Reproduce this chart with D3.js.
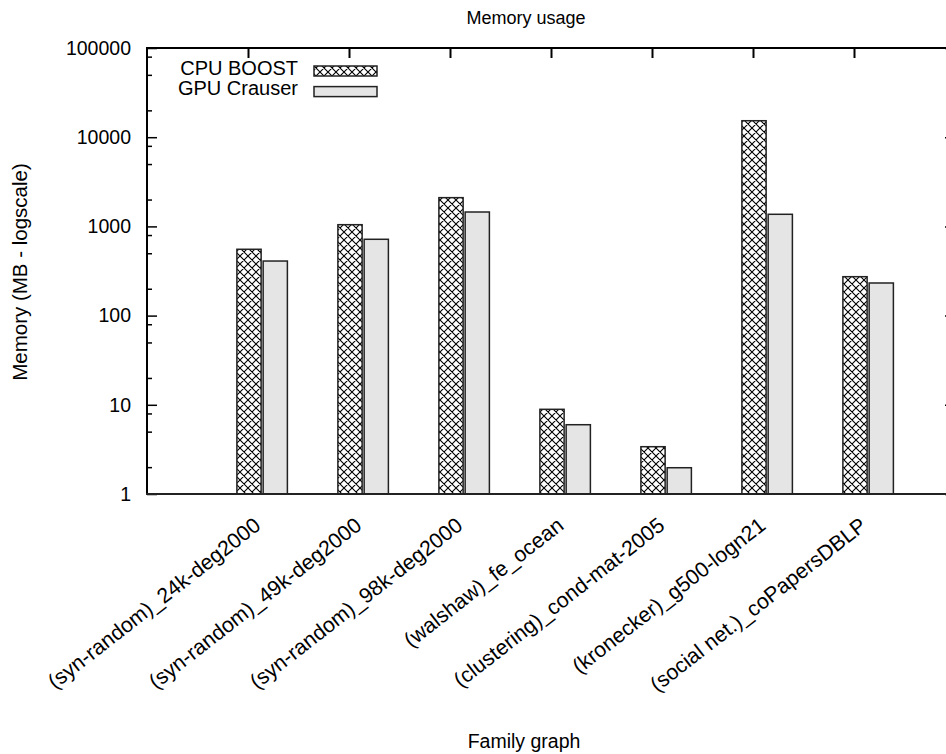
<!DOCTYPE html>
<html>
<head>
<meta charset="utf-8">
<script src="https://cdn.jsdelivr.net/npm/d3@7"></script>
<style>
  html, body { margin: 0; padding: 0; background: #fff; }
  svg { display: block; font-family: "Liberation Sans", Arial, Helvetica, sans-serif; }
</style>
</head>
<body>
<svg id="chart" width="946" height="754"></svg>
<script>
const categories = [
  "(syn-random)_24k-deg2000",
  "(syn-random)_49k-deg2000",
  "(syn-random)_98k-deg2000",
  "(walshaw)_fe_ocean",
  "(clustering)_cond-mat-2005",
  "(kronecker)_g500-logn21",
  "(social net.)_coPapersDBLP"
];
const seriesNames = ["CPU BOOST", "GPU Crauser"];
const cpuBoost = [554, 1045, 2100, 8.9, 3.39, 15300, 273];
const gpuCrauser = [409, 717, 1450, 5.98, 1.97, 1367, 232];
const yTickValues = [1, 10, 100, 1000, 10000, 100000];
const yTickLabels = ["1", "10", "100", "1000", "10000", "100000"];
const minorMultipliers = [2, 5, 8];

(function () {
const svg = d3.select("#chart");
const pLeft = 147, pRight = 955, pTop = 48, pBottom = 494;

const x = d3.scaleLinear().domain([-1, 7]).range([pLeft, pRight]);
const y = d3.scaleLog().domain([1, 100000]).range([pBottom, pTop]);

const defs = svg.append("defs");
const pat = defs.append("pattern")
  .attr("id", "xhatch").attr("patternUnits", "userSpaceOnUse")
  .attr("width", 8).attr("height", 8);
pat.append("rect").attr("width", 8).attr("height", 8).attr("fill", "#fff");
pat.append("path").attr("d", "M0,0L8,8M8,0L0,8M-1,7L1,9M7,-1L9,1M-1,1L1,-1M7,9L9,7")
  .attr("stroke", "#000").attr("stroke-width", 1.1);

const barW = 0.24;
const offsets = [-0.11, 0.15];
const fills = ["url(#xhatch)", "#e5e5e5"];
const series = [cpuBoost, gpuCrauser];

series.forEach((vals, s) => {
  svg.append("g").selectAll("rect").data(vals).join("rect")
    .attr("x", (d, i) => x(i + offsets[s]))
    .attr("width", x(barW) - x(0))
    .attr("y", d => y(d))
    .attr("height", d => y(1) - y(d))
    .attr("fill", fills[s])
    .attr("stroke", "#222").attr("stroke-width", 1.5);
});

const minors = [];
for (let e = 0; e < 5; e++) minorMultipliers.forEach(m => minors.push(m * Math.pow(10, e)));

const axisG = svg.append("g");
const yAxisL = d3.axisLeft(y).tickValues(yTickValues).tickFormat((d, i) => yTickLabels[i]).tickSize(-10).tickPadding(16);
const gl = axisG.append("g").attr("transform", `translate(${pLeft},0)`).call(yAxisL);
gl.select(".domain").remove();
gl.selectAll(".tick line").attr("stroke", "#000").attr("stroke-width", 1.5);
gl.selectAll(".tick text").attr("font-size", 19.5).attr("fill", "#000");
axisG.append("g").attr("transform", `translate(${pLeft},0)`)
  .call(d3.axisLeft(y).tickValues(minors).tickFormat("").tickSize(-5))
  .call(g => g.select(".domain").remove())
  .call(g => g.selectAll(".tick line").attr("stroke", "#000").attr("stroke-width", 1.5));
axisG.append("g").attr("transform", `translate(${pRight},0)`)
  .call(d3.axisRight(y).tickValues(yTickValues).tickFormat("").tickSize(-10))
  .call(g => g.select(".domain").remove())
  .call(g => g.selectAll(".tick line").attr("stroke", "#000").attr("stroke-width", 1.5));
axisG.append("g").attr("transform", `translate(${pRight},0)`)
  .call(d3.axisRight(y).tickValues(minors).tickFormat("").tickSize(-5))
  .call(g => g.select(".domain").remove())
  .call(g => g.selectAll(".tick line").attr("stroke", "#000").attr("stroke-width", 1.5));
axisG.append("g").attr("transform", `translate(0,${pTop})`)
  .call(d3.axisTop(x).tickValues(d3.range(categories.length)).tickFormat("").tickSize(-10))
  .call(g => g.select(".domain").remove())
  .call(g => g.selectAll(".tick line").attr("stroke", "#000").attr("stroke-width", 2));

svg.append("line").attr("x1", pLeft).attr("x2", pLeft).attr("y1", pTop - 1).attr("y2", pBottom + 1).attr("stroke", "#000").attr("stroke-width", 2);
svg.append("line").attr("x1", pLeft - 1).attr("x2", pRight).attr("y1", pTop).attr("y2", pTop).attr("stroke", "#000").attr("stroke-width", 2);
svg.append("line").attr("x1", pLeft - 1).attr("x2", pRight).attr("y1", pBottom).attr("y2", pBottom).attr("stroke", "#222").attr("stroke-width", 2);
svg.append("line").attr("x1", pRight).attr("x2", pRight).attr("y1", pTop).attr("y2", pBottom).attr("stroke", "#000").attr("stroke-width", 2);

svg.append("g").selectAll("text").data(categories).join("text")
  .attr("transform", (d, i) => `translate(${x(i) + 14},${pBottom + 34}) rotate(-38)`)
  .attr("text-anchor", "end")
  .attr("font-size", 21.3)
  .text(d => d);

svg.append("text").attr("x", 526).attr("y", 23.5).attr("text-anchor", "middle").attr("font-size", 18).text("Memory usage");
svg.append("text").attr("x", 524).attr("y", 748).attr("text-anchor", "middle").attr("font-size", 19.5).text("Family graph");
svg.append("text").attr("transform", "translate(27,272) rotate(-90)").attr("text-anchor", "middle").attr("font-size", 20.5).text("Memory (MB - logscale)");

const lg = svg.append("g");
seriesNames.forEach((n, s) => {
  lg.append("text").attr("x", 298).attr("y", 74.5 + s * 20.6).attr("text-anchor", "end").attr("font-size", 20).text(n);
  lg.append("rect").attr("x", 314).attr("y", 66 + s * 20.6).attr("width", 63).attr("height", 10)
    .attr("fill", fills[s]).attr("stroke", "#222").attr("stroke-width", 1.5);
});
})();
</script>
</body>
</html>
